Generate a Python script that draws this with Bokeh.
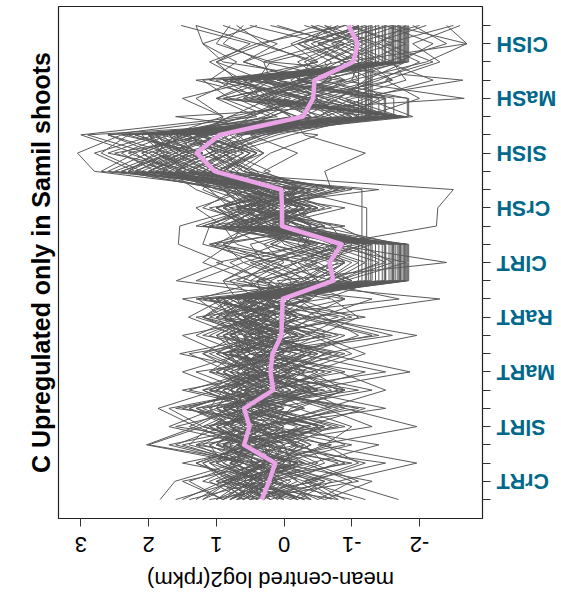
from bokeh.plotting import figure
from bokeh.models import Range1d, FixedTicker
from bokeh.embed import file_html
from bokeh.resources import INLINE
import math

# ---------------- data ----------------
tissues = ["CrRT", "SlRT", "MaRT", "RaRT", "ClRT", "CrSH", "SlSH", "MaSH", "ClSH"]
reps_per_tissue = 3
sample_pos = list(range(1, 28))
value_ticks = [-2, -1, 0, 1, 2, 3]
title_text = "C Upregulated only in Samil shoots"
axis_title = "mean-centred log2(rpkm)"

mean_profile = [0.33, 0.22, 0.13, 0.59, 0.51, 0.59, 0.16, 0.20, 0.17, 0.04, 0.03, 0.02,
                -0.73, -0.67, -0.85, 0.03, 0.03, 0.04, 1.02, 1.29, 0.95,
                -0.28, -0.43, -0.45, -1.02, -1.09, -0.95]

genes = [
    [0.3, 0.6, -0.2, 1.0, 0.7, 1.3, 0.2, 0.5, -0.1, 0.4, 0.1, 0.6, -1.76, -1.76, -1.76, 0.5, -0.1, 0.4, 1.7, 2.1, 1.4, -1.76, -0.3, 0.7, -1.76, -1.76, -1.76],
    [-0.2, 0.4, 0.9, 0.5, 1.4, 0.8, -0.3, 0.6, 0.2, 0.8, 0.3, -0.1, -1.6, -1.6, -1.6, 0.1, 0.7, -0.4, 2.2, 1.5, 1.9, -1.6, 0.4, 0.9, -1.6, -1.6, -1.6],
    [0.8, 0.1, 0.5, 1.6, 0.9, 0.3, 0.6, -0.1, 0.9, -0.2, 0.5, 0.2, -1.84, -1.84, -1.84, 0.6, 0.2, 0.9, 1.3, 2.6, 1.8, -1.84, -1.84, 0.5, -1.84, -1.84, -1.84],
    [0.5, -0.4, 0.2, 0.3, 0.8, 1.1, 0.9, 0.2, 0.4, 0.0, 0.7, 0.9, -1.45, -1.45, -1.45, -0.3, 0.5, 0.1, 1.9, 1.2, 2.4, -1.45, 0.2, -0.3, -1.45, -1.45, -1.45],
    [0.0, 0.3, 0.7, 0.6, 0.2, 1.5, 0.4, 0.8, 0.1, 0.5, -0.2, 0.3, -1.3, -1.3, -1.3, 0.3, -0.5, 0.6, 1.1, 1.6, 0.9, -1.3, -1.3, -1.3, -1.3, -1.3, -1.3],
    [1.2, 0.6, 0.3, 0.1, 0.9, 0.5, -0.2, 0.3, 0.7, 0.9, 0.4, 0.1, -1.7, -1.7, -1.7, 0.8, 0.4, -0.2, 2.5, 1.8, 2.0, -1.7, 0.5, 1.0, -1.7, -1.7, -1.7],
    [-0.4, 0.2, 0.6, 1.1, 0.3, 0.8, 0.5, 1.0, 0.3, 0.2, 0.6, 0.4, -1.55, -1.55, -1.55, -0.1, 0.9, 0.2, 1.5, 2.3, 1.2, -1.55, -0.6, 0.2, -1.55, -1.55, -1.55],
    [0.4, 0.9, 0.1, 0.7, -0.3, 0.4, 1.0, 0.2, 0.6, -0.1, 0.3, 0.8, -1.2, -1.2, -1.2, 0.2, -0.3, 0.5, 0.9, 1.4, 1.7, -1.2, -1.2, -1.2, -1.2, -1.2, -1.2],
    [0.6, 1.1, 0.4, 2.0, 1.2, 1.7, 0.3, 0.9, 0.5, 0.7, 1.0, 0.2, -1.8, -1.8, -1.8, 0.9, 0.3, 0.6, 2.8, 3.05, 2.4, -1.8, 0.8, 1.2, -1.8, -1.8, -1.8],
    [0.1, -0.3, 0.5, 0.4, 1.0, 0.2, 0.7, 0.0, 0.4, 0.6, 0.2, 1.1, -1.65, -1.65, -1.65, 0.4, 0.0, -0.4, 1.2, 1.9, 1.5, -1.65, 0.1, 0.6, -1.65, -1.65, -1.65],
    [0.9, 0.2, -0.1, 0.8, 0.5, 1.0, 0.2, 0.7, 1.2, 0.3, 0.9, 0.5, -1.4, -1.4, -1.4, 0.6, 0.1, 0.8, 2.0, 1.3, 1.6, -1.4, -1.4, 0.3, -1.4, -1.4, -1.4],
    [0.2, 0.5, 0.0, -0.2, 0.6, 0.3, 0.5, -0.1, 0.2, 0.1, 0.4, -0.3, -1.1, -1.1, -1.1, 0.0, 0.4, -0.1, 0.8, 1.1, 0.7, -1.1, -1.1, -1.1, -1.1, -1.1, -1.1],
    [0.3, 0.0, 0.8, 0.5, 0.9, 0.1, -0.3, 0.4, 0.6, 0.2, -0.2, 0.5, -0.9, -0.4, -1.2, 0.2, 0.6, 0.0, 1.4, 0.9, 1.8, -0.2, -0.7, 0.4, -1.35, -1.35, -1.35],
    [0.7, 0.3, 1.0, 0.2, 0.8, 0.6, 0.9, 0.1, 0.3, 0.6, 0.8, 0.0, -1.5, -1.5, -1.5, 0.5, 0.1, 0.7, 1.8, 1.4, 2.2, -0.6, 0.3, -0.3, -0.8, -1.3, -0.5],
    [1.0, 0.4, 0.7, 1.3, 0.6, 0.9, 0.1, 0.6, 0.8, 0.4, 1.2, 0.7, -1.72, -1.72, -1.72, 0.3, 0.8, 1.1, 1.6, 1.0, 1.3, -1.72, -0.9, 0.1, -1.72, -1.72, -1.72],
    [-0.1, 0.7, 0.3, 0.9, 0.4, 0.0, 0.8, 0.3, -0.2, 1.0, 0.5, 0.7, -1.62, -1.62, -1.62, 1.0, 0.5, 0.2, 2.1, 2.7, 2.3, -1.62, -1.62, -0.2, -1.62, -1.62, -1.62],
    [0.5, 0.8, 0.2, 0.0, 0.5, 0.7, 0.3, 0.6, 0.0, 0.2, 0.7, 0.3, -1.25, -1.25, -1.25, -0.2, 0.2, 0.4, 1.5, 0.8, 1.2, -1.25, -1.25, -1.25, -1.25, -1.25, -1.25],
    [0.6, 0.2, 0.4, 1.4, 1.1, 0.6, 0.7, 0.4, 1.0, 0.5, 0.0, 0.6, -1.78, -1.78, -1.78, 0.7, -0.2, 0.3, 2.3, 1.7, 2.6, -1.78, 1.0, 0.4, -1.78, -1.78, -1.78],
    [1.2, 0.8, 0.3, 0.9, 0.2, 1.0, -0.2, 0.4, -0.3, 0.1, 0.6, 0.0, -0.5, -0.9, -0.2, 0.9, 1.3, 0.5, 1.6, 1.2, 2.0, -0.8, -1.5, -1.0, -2.1, -2.7, -2.4],
    [-0.5, -1.0, -0.3, 0.2, -0.6, 0.4, -0.8, -0.2, -1.0, -0.4, 0.3, -0.9, -0.3, -0.7, 0.2, -0.5, 0.4, -0.2, 2.7, 2.2, 3.0, 0.6, -0.4, 0.9, -1.3, -0.6, -1.1],
    [0.9, 1.4, 0.6, 2.03, 1.3, 1.86, 1.0, 0.5, 1.2, 0.7, 1.41, 0.9, -0.8, -1.4, -0.6, 1.1, 0.6, 0.9, 0.2, 0.8, -0.1, -1.2, -2.0, -1.5, -2.3, -1.9, -2.6],
    [1.83, 1.61, 0.7, 0.4, 1.1, 0.5, 0.8, 0.3, 1.54, 0.2, 0.9, 1.27, 0.3, -0.5, 1.0, 0.5, 0.0, 0.7, 0.9, 1.5, 0.6, -1.0, -0.4, -0.9, -1.7, -2.2, -1.5],
    [-1.69, -0.8, -1.96, -0.5, -1.96, -0.9, -0.3, -1.86, -0.6, -1.96, -0.4, -2.3, 0.5, 1.2, 0.8, 0.6, 1.0, 0.3, 1.7, 1.1, 1.4, 0.8, 0.2, 0.6, 1.1, 0.4, 1.3],
    [-0.6, 0.2, -0.9, -0.2, 0.4, -0.7, 0.1, -0.5, 0.3, -0.8, 0.0, -0.4, 1.59, 0.9, 1.56, 1.54, 0.6, 1.2, 1.0, 0.4, 0.8, -0.5, -1.2, -0.3, 0.6, -0.2, -0.9],
    [0.2, -0.6, 0.5, -0.9, -0.3, -1.2, 0.6, 0.0, -0.5, 0.3, -1.0, -0.2, 0.1, -2.4, -0.7, -2.25, -2.27, -2.5, 1.4, 1.9, 1.1, 0.9, 1.3, 0.7, 1.0, 0.5, 1.52],
    [-0.3, 0.5, 0.1, -0.6, 0.2, -0.1, -0.9, 0.3, -0.4, 0.4, -0.3, 0.2, -0.6, -1.0, -0.2, -0.4, 0.2, -0.8, 0.6, 0.2, -0.5, 1.6, -2.66, -0.8, 0.9, 1.2, 1.3],
    [0.4, -0.2, 0.1, 0.6, -0.5, 0.3, -0.4, 0.2, 0.7, -0.6, 0.1, -0.3, -0.2, 0.5, -0.8, 0.3, -0.6, 0.1, 1.2, 0.7, 1.5, -0.5, -1.0, -2.64, 0.2, -0.9, -0.4],
    [0.0, 0.6, -0.4, 0.3, -0.2, 0.8, 0.5, -0.3, 0.1, -0.5, 0.4, 0.2, -0.3, 0.1, -0.6, 0.7, 0.2, -0.3, 0.5, 1.0, 0.3, -0.7, -0.2, -1.1, -0.9, -2.7, -1.6],
    [-0.2, 0.3, -0.5, 0.1, 0.7, -0.3, 0.2, -0.6, 0.4, 0.0, -0.4, 0.6, -0.4, -0.9, -0.1, 0.5, 0.9, 0.0, 1.8, 1.1, 1.4, -0.3, -0.8, 0.1, -1.2, -0.7, -1.5],
    [0.7, 0.1, 0.4, -0.3, 0.5, 0.9, 0.0, 0.6, -0.2, 0.8, 0.3, -0.1, -1.0, -0.5, -1.3, -0.2, 0.3, -0.6, 0.4, 1.3, 0.8, 0.2, -0.5, -0.1, -0.6, -1.1, -0.4],
    [-0.7, -0.2, 0.3, -0.4, 0.1, -0.8, 0.4, -0.1, -0.6, 0.2, -0.5, 0.0, 0.6, 0.2, 0.9, -0.6, -0.1, 0.4, 2.0, 1.4, 1.7, -0.9, -0.3, -0.6, -0.2, -0.8, 0.1],
    [0.5, 1.0, 0.2, 0.7, 0.0, 0.4, 1.1, 0.6, 0.2, 0.4, 0.8, 1.0, -0.7, 0.2, -0.4, 0.1, -0.4, 0.3, 0.7, 0.3, 1.0, -1.4, -0.9, -1.8, -1.6, -1.0, -2.0],
    [-0.9, -0.4, -1.2, -0.1, -0.7, 0.2, -0.5, 0.1, -0.3, -1.1, -0.6, -0.2, 0.3, 0.8, 0.1, -0.3, 0.6, 0.9, 2.4, 1.6, 2.0, 0.1, 0.7, -0.2, -0.4, 0.3, -0.5],
    [0.3, -0.1, 0.6, 0.8, 0.2, 0.5, -0.2, 0.3, 0.7, 0.1, 0.5, -0.4, -0.8, -1.6, -1.1, 0.4, -0.3, 0.2, 1.0, 0.5, 1.3, -0.1, 0.4, -0.5, -0.9, -0.3, -0.7],
    [0.1, 0.4, -0.3, 0.5, 1.0, 0.2, 0.6, 0.1, 0.3, -0.2, 0.2, 0.5, -0.5, -0.1, -0.9, -0.7, 0.1, -0.4, 0.6, 0.9, 0.2, -0.6, -1.3, -0.2, -1.0, -0.5, -1.4],
    [1.5, 0.9, 1.2, 0.6, 1.3, 0.8, 0.2, 1.0, 0.5, 0.9, 0.3, 0.7, -1.0, -0.3, -0.7, 0.0, 0.5, -0.3, 0.3, -0.2, 0.5, -1.5, -0.8, -1.2, -1.8, -1.3, -2.1],
    [-0.4, 0.0, -0.8, 0.2, -0.3, 0.5, -0.7, -0.2, 0.1, -0.3, -0.9, 0.3, 0.4, -0.2, 0.7, 0.9, 0.3, 1.1, 1.5, 2.0, 1.2, 0.3, -0.3, 0.5, -0.5, -0.1, -0.8],
    [0.6, 0.2, 0.9, 1.1, 0.4, 0.7, 0.3, 0.8, 0.0, 0.5, 0.2, 0.8, -0.3, -0.8, 0.0, 0.2, -0.3, 0.6, 0.8, 0.4, 1.1, -1.0, -0.4, -1.3, -0.8, -1.6, -1.0],
    [-0.1, -0.6, 0.2, -0.4, 0.3, -0.2, 0.8, 0.2, -0.4, 0.6, -0.1, 0.3, -0.2, 0.4, -0.5, 1.2, 0.4, 0.7, 0.9, 0.5, 1.2, -0.4, 0.2, -0.7, -0.6, -1.2, -0.3],
    [0.8, 0.3, 0.0, 0.2, 0.6, 1.0, -0.1, 0.4, 0.9, 0.3, 0.7, 0.1, -0.6, -1.1, -0.3, -0.4, 0.0, -0.8, 1.1, 0.6, 0.9, 0.5, -0.2, 0.3, -1.4, -0.8, -1.1],
    [-0.3, 0.4, 0.8, 0.0, -0.5, 0.3, 0.7, 0.2, -0.3, 0.1, 0.6, -0.2, 0.2, -0.4, -0.9, 0.3, 0.7, -0.2, 1.3, 0.8, 1.6, -0.2, 0.5, -0.4, -0.7, -0.2, -1.2],
    [0.4, 0.9, 0.2, 0.6, 1.0, 0.3, 0.8, 0.5, 1.1, 0.2, 0.7, 0.4, 0.0, -0.5, 0.3, -0.4, 0.2, -0.7, -0.6, -1.2, -0.3, -0.1, 0.3, -0.5, -0.9, -0.4, -1.1],
    [0.2, 0.7, 1.1, 0.4, 0.0, 0.6, 1.2, 0.5, 0.3, 0.8, 0.1, 0.4, -1.68, -1.68, -1.68, 0.2, 0.6, -0.3, 1.9, 2.4, 1.7, -1.68, 0.6, 0.2, -1.68, -1.68, -1.68],
    [0.9, 0.5, 0.2, 1.2, 0.7, 1.4, 0.6, 0.9, 0.3, 0.0, 0.6, 0.9, -1.58, -1.58, -1.58, 0.4, 0.9, 0.1, 1.4, 1.8, 2.1, -1.58, -0.2, 0.8, -1.58, -1.58, -1.58],
    [0.1, 0.4, -0.2, 0.7, 0.3, 0.9, 0.2, -0.3, 0.5, 0.6, 0.9, 0.2, -1.5, -1.5, -1.5, 0.6, 0.2, 0.5, 1.0, 1.6, 1.3, -1.5, -1.5, 0.1, -1.5, -1.5, -1.5],
    [0.5, 0.1, 0.8, 0.3, 1.2, 0.6, -0.1, 0.7, 0.4, 1.1, 0.5, 0.3, -1.8, -1.8, -1.8, -0.1, 0.5, 0.9, 2.2, 1.6, 1.9, -1.8, 0.3, 0.7, -1.8, -1.8, -1.8],
    [0.6, 0.9, 0.3, 0.2, 0.8, 0.5, 0.9, 0.4, 0.7, 0.3, 0.6, 1.0, -1.15, -1.15, -1.15, -1.15, -1.15, -1.15, 1.6, 1.2, 1.9, -1.15, -1.15, -0.2, -1.15, -1.15, -1.15],
    [0.8, 0.4, 1.0, 0.7, 0.3, 1.1, 0.5, 0.9, 0.2, 0.6, 1.2, 0.5, -1.22, -1.22, -1.22, -1.22, -1.22, -0.1, 2.0, 1.5, 1.2, -1.22, -1.22, -1.22, -1.22, -1.22, -1.22],
    [1.0, 0.6, 1.3, 0.5, 0.9, 0.2, 0.4, 1.1, 0.7, 1.0, 0.4, 0.6, -0.9, -0.2, -1.2, 0.6, 1.0, 0.2, 0.5, 0.9, 0.1, -1.1, -0.6, -1.4, -2.0, -1.4, -1.8],
    [-0.8, -0.3, -1.1, -0.6, -1.0, -0.2, -0.9, -0.4, -1.2, -0.5, -1.1, -0.7, 0.9, 0.4, 1.1, 0.1, -0.4, 0.5, 2.3, 1.9, 2.6, 0.4, 1.0, 0.2, 0.3, 0.9, 0.6],
    [0.2, 0.8, -0.2, 0.9, 0.5, 1.2, -0.4, 0.3, 0.6, 0.7, -0.1, 0.3, -0.4, -0.9, -0.6, 0.8, 0.1, 0.5, 0.7, 1.1, 0.4, -0.8, -0.2, -1.0, -1.1, -0.5, -1.6],
    [-0.5, 0.1, 0.4, -0.2, 0.3, -0.6, 0.3, -0.2, 0.8, -0.4, 0.2, -0.1, -0.1, 0.6, -0.3, -0.5, 0.3, 0.8, 1.1, 1.7, 0.9, 0.2, -0.5, 0.4, -0.8, -1.4, -0.6],
    [0.9, 0.5, 0.1, 0.4, 0.8, 0.0, 1.0, 0.3, 0.6, 0.2, 0.9, 0.4, -0.7, -1.2, -0.4, 0.0, -0.5, 0.2, 0.4, 0.9, 0.6, -1.3, -0.7, -1.6, -1.2, -1.8, -0.9],
    [-0.2, -0.7, 0.1, 0.3, -0.3, 0.6, -0.5, 0.0, -0.8, 0.4, -0.2, 0.2, 0.5, 0.0, 0.3, 0.9, 0.3, -0.2, 1.6, 1.0, 1.4, -0.4, 0.1, -0.7, -0.3, -0.9, 0.2],
    [0.3, 0.7, -0.1, 0.0, 0.4, 0.8, 0.2, 0.7, 0.3, -0.3, 0.4, 0.9, -0.2, -0.7, -1.0, 0.4, -0.2, 0.0, 0.9, 0.5, 1.2, -0.5, 0.0, -0.9, -0.4, -1.0, -0.6],
    [0.6, 0.0, 0.4, 1.0, 0.6, 0.2, 0.4, -0.1, 0.5, 0.8, 0.2, 0.6, -0.5, -0.2, -0.8, -0.1, 0.4, 0.3, 1.2, 0.6, 1.5, -0.9, -1.4, -0.6, -1.5, -0.9, -1.7],
    [1.4, 0.3, 1.1, -0.2, 1.6, 0.5, 1.2, -0.4, 0.9, 1.5, 0.2, 1.0, -1.74, -1.74, -1.74, 0.9, -0.3, 0.6, 1.8, 2.2, 1.5, -1.74, 0.4, -0.2, -1.74, -1.74, -1.74],
    [-0.8, 0.9, -0.3, 1.3, -0.6, 0.7, -1.1, 0.5, -0.7, 0.6, -1.2, 0.4, 0.8, -0.2, 1.1, -0.9, 0.7, -1.4, 1.9, 1.3, 2.2, -0.2, 0.6, -0.9, 0.3, -0.6, 0.5],
    [1.1, -0.5, 0.6, 1.7, 0.4, 1.3, -0.6, 0.8, 1.4, -0.3, 1.0, 0.5, -1.48, -1.48, -1.48, 1.2, 0.3, -0.5, 2.6, 2.0, 2.9, -1.48, -1.48, 0.6, -1.48, -1.48, -1.48],
    [-1.2, -0.3, -1.5, 0.4, -1.3, -0.6, -1.5, -0.8, 0.2, -1.6, -0.5, -1.3, 1.3, 0.6, 0.9, 0.3, 1.2, 0.7, 1.4, 0.8, 1.7, 0.9, 1.5, 0.4, 0.2, 1.0, 0.8],
    [0.9, 1.5, 0.2, -0.7, 0.8, 1.4, 0.6, 1.3, -0.5, 1.2, 0.5, 1.5, -0.6, -1.5, -0.9, 0.5, 1.1, -0.6, 1.0, 0.3, 0.7, -1.9, -1.2, -2.2, -1.5, -2.4, -1.9],
    [-0.4, 1.0, 0.4, 0.9, -0.8, 0.3, 1.5, 0.1, -0.9, 0.4, 1.3, -0.6, -1.35, -1.35, -1.35, -0.8, 0.6, 1.3, 1.7, 2.5, 1.1, -1.35, 0.9, -0.4, -1.35, -1.35, -1.35],
    [0.5, -1.1, -0.4, -1.4, 0.2, -0.9, 0.3, -1.5, -0.2, -0.9, 0.6, -1.7, -0.4, 0.3, -1.1, 0.6, -0.7, 0.2, 2.1, 1.5, 1.8, 0.5, -0.3, 1.1, 0.7, 1.2, 0.4],
    [1.6, 0.7, 1.3, 0.5, 1.7, 1.0, 0.8, 1.5, 0.6, 1.3, 0.7, 1.1, -1.82, -1.82, -1.82, 1.3, 0.5, 0.8, 1.2, 1.8, 0.9, -1.82, -1.82, -0.5, -1.82, -1.82, -1.82],
    [-0.2, 0.8, 1.2, 0.3, -0.6, 0.9, -0.9, 0.4, 1.0, -0.7, 0.9, -0.4, 0.4, -0.9, 0.2, -0.3, 0.8, -0.9, 0.8, 1.4, 0.3, -1.1, -0.3, -1.6, -0.9, -0.2, -1.3],
    [0.7, -0.8, 0.2, 1.0, -0.4, 1.6, 0.2, -0.7, 0.9, -0.2, 1.1, 0.4, -1.62, -1.62, -1.62, 0.2, -0.9, 0.9, 2.4, 1.7, 2.0, -1.62, -0.4, 0.9, -1.62, -1.62, -1.62],
    [-1.0, 0.2, -0.6, -0.3, 0.5, -1.1, 0.6, -0.9, 0.1, -1.3, -0.2, 0.3, 0.2, 1.0, -0.4, 0.7, -0.3, 1.0, 1.6, 2.1, 1.4, 0.6, -0.1, 0.8, -0.5, 0.4, -0.9],
    [1.3, 0.8, -0.2, 0.6, 1.1, 0.1, 1.4, 0.5, 0.9, 0.1, 1.2, 0.8, -0.9, -1.8, -0.6, 0.4, 1.0, -0.2, 0.6, 1.1, 0.3, -1.6, -0.8, -1.3, -2.2, -1.5, -2.5],
    [0.0, 1.2, 0.6, 1.5, 0.1, 0.8, -0.5, 1.1, 0.2, 0.9, -0.4, 1.3, -1.28, -1.28, -1.28, 0.8, -0.4, 0.3, 1.3, 1.9, 1.6, -1.28, -1.28, -1.28, -1.28, -1.28, -1.28],
    [-0.6, -1.3, 0.1, -1.0, 0.4, -1.5, -0.2, -1.2, 0.5, -1.4, -0.3, -0.9, 0.7, 0.1, 1.2, 1.1, -0.5, 0.5, 2.2, 2.8, 1.9, 0.2, 0.9, -0.3, 0.6, 0.1, 0.9],
    [0.8, 0.1, 1.5, 0.2, 1.2, -0.3, 1.1, 0.3, 0.8, 0.5, -0.2, 1.2, -1.7, -1.7, -1.7, -0.5, 0.6, 0.2, 2.0, 1.4, 2.3, -1.7, 0.2, 1.3, -1.7, -1.7, -1.7],
    [-0.3, 0.6, -1.0, 0.7, -0.9, 0.2, -1.3, 0.0, -0.6, 0.2, -0.8, 0.7, 0.9, 0.3, 0.5, -0.6, 0.4, -1.0, 0.9, 0.4, 1.3, 0.8, -0.6, 0.3, 1.0, 0.3, 0.7],
]

FONT = "Liberation Sans"

# The figure is drawn upright (as R drew it) and the finished figure is
# turned a quarter turn anti-clockwise, as in the reference image.
# Its box is 561 x 597; after the turn Bokeh lays the canvas out 597 x 561.
p = figure(width=561, height=597, output_backend="svg", toolbar_location=None,
           x_range=Range1d(-0.04, 28.04), y_range=Range1d(-2.93, 3.33),
           min_border_left=78, min_border_right=7, min_border_top=58, min_border_bottom=79,
           background_fill_color="white", border_fill_color="white",
           title=title_text,
           styles={"transform": "translate(18px, 18px) rotate(-90deg)",
                   "transform-origin": "50% 50%"})
p.grid.visible = False
p.outline_line_color = "#222222"
p.outline_line_width = 1.2

p.title.text_font = FONT
p.title.text_font_size = "25px"
p.title.text_font_style = "bold"
p.title.align = "center"
p.title.text_color = "black"
p.title.standoff = 7

p.multi_line(xs=[sample_pos] * len(genes), ys=genes, line_color="#5a5a5a", line_width=1)
p.line(x=sample_pos, y=mean_profile, line_color="#E9A3E6", line_width=4.5, line_join="round")

# value axis (left in the upright figure)
ya = p.yaxis[0]
ya.ticker = FixedTicker(ticks=value_ticks)
ya.major_label_overrides = {v: str(v) for v in value_ticks}
ya.minor_tick_line_color = None
ya.axis_line_color = None
ya.major_tick_out = 8
ya.major_tick_in = 0
ya.major_tick_line_color = "#333333"
ya.major_label_orientation = "parallel"
ya.major_label_text_font = FONT
ya.major_label_text_font_size = "22px"
ya.major_label_text_color = "black"
ya.major_label_standoff = 10
ya.axis_label = axis_title
ya.axis_label_text_font = FONT
ya.axis_label_text_font_size = "22px"
ya.axis_label_text_font_style = "normal"
ya.axis_label_text_color = "black"
ya.axis_label_standoff = 12

# sample axis (bottom in the upright figure)
xa = p.xaxis[0]
xa.ticker = FixedTicker(ticks=sample_pos)
labels = {pos: "" for pos in sample_pos}
for i, t in enumerate(tissues):
    labels[i * reps_per_tissue + 2] = t
xa.major_label_overrides = labels
xa.major_label_orientation = math.pi / 2
xa.major_label_text_color = "#00688B"
xa.major_label_text_font = FONT
xa.major_label_text_font_style = "bold"
xa.major_label_text_font_size = "21.5px"
xa.axis_line_color = None
xa.minor_tick_line_color = None
xa.major_tick_out = 8
xa.major_tick_in = 0
xa.major_tick_line_color = "#333333"
xa.major_label_standoff = 6

open("out.html", "w").write(file_html(p, INLINE))
